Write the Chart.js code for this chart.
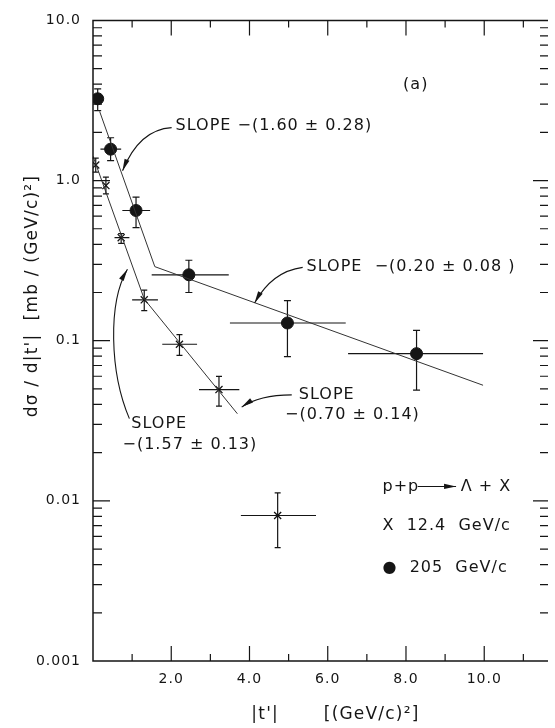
<!DOCTYPE html>
<html>
<head>
<meta charset="utf-8">
<script src="https://cdn.jsdelivr.net/npm/chart.js@4.4.1/dist/chart.umd.min.js"></script>
<style>
  html, body { margin: 0; padding: 0; background: #fff; }
  canvas { display: block; }
</style>
</head>
<body>
<canvas id="chart" width="555" height="728"></canvas>
<script>
// 205 GeV/c points (filled circles)
const t205 = [0.12, 0.45, 1.10, 2.45, 4.97, 8.27];
const y205 = [3.24, 1.57, 0.65, 0.258, 0.129, 0.083];
const y205Hi = [3.74, 1.85, 0.787, 0.318, 0.178, 0.116];
const y205Lo = [2.73, 1.33, 0.508, 0.200, 0.0796, 0.0492];
const t205Lo = [0.12, 0.19, 0.75, 1.50, 3.50, 6.52];
const t205Hi = [0.12, 0.72, 1.46, 3.47, 6.46, 9.97];

// 12.4 GeV/c points (crosses)
const t124 = [0.07, 0.33, 0.72, 1.31, 2.21, 3.22, 4.72];
const y124 = [1.25, 0.93, 0.44, 0.18, 0.095, 0.0495, 0.0081];
const y124Hi = [1.38, 1.05, 0.466, 0.207, 0.109, 0.0598, 0.0112];
const y124Lo = [1.13, 0.825, 0.405, 0.154, 0.081, 0.039, 0.0051];
const t124Lo = [0.07, 0.33, 0.55, 1.00, 1.77, 2.71, 3.78];
const t124Hi = [0.07, 0.33, 0.93, 1.66, 2.66, 3.74, 5.70];

// fitted slopes (break points)
const fit205T = [0.17, 1.58, 9.97];
const fit205Y = [2.70, 0.290, 0.0527];
const fit124T = [0.0, 1.31, 3.69];
const fit124Y = [1.42, 0.182, 0.035];

// tick labels
const xTicks = [2, 4, 6, 8, 10];
const yTicks = [0.001, 0.01, 0.1, 1, 10];
const yTickLabels = ['0.001', '0.01', '0.1', '1.0', '10.0'];

const FONT = "'DejaVu Sans', sans-serif";
const INK = '#151515';

const pts = (xs, ys) => xs.map((x, i) => ({ x: x, y: ys[i] }));

// annotation text in data units
const notes = [
  { text: 'SLOPE −(1.60 ± 0.28)', t: 2.11, v: 2.21 },
  { text: 'SLOPE  −(0.20 ± 0.08 )', t: 5.46, v: 0.291 },
  { text: 'SLOPE', t: 5.26, v: 0.0457 },
  { text: '−(0.70 ± 0.14)', t: 4.91, v: 0.0343 },
  { text: 'SLOPE', t: 0.98, v: 0.0302 },
  { text: '−(1.57 ± 0.13)', t: 0.755, v: 0.0224 },
  { text: '(a)', t: 8.25, v: 3.96, align: 'center' },
  { text: 'p+p', t: 7.40, v: 0.0123 },
  { text: 'Λ + X', t: 9.40, v: 0.0123 },
  { text: 'X  12.4  GeV/c', t: 7.40, v: 0.00695 },
  { text: '●  205  GeV/c', t: 7.40, v: 0.00382 }
];
// curved pointer arrows (start, controls..., tip) in data units
const arrows = [
  [[2.01, 2.14], [1.18, 2.08], [0.755, 1.15]],
  [[5.36, 0.287], [4.58, 0.271], [4.13, 0.172]],
  [[5.08, 0.0459], [4.25, 0.0458], [3.80, 0.0385]],
  [[0.93, 0.0326], [0.428, 0.0634], [0.377, 0.172], [0.88, 0.279]],
  [[8.30, 0.0123], [9.28, 0.0123]]
];

function arrowHead(ctx, x, y, dx, dy, len, w) {
  const d = Math.hypot(dx, dy);
  const ux = dx / d, uy = dy / d;
  ctx.beginPath();
  ctx.moveTo(x, y);
  ctx.lineTo(x - ux * len - uy * w, y - uy * len + ux * w);
  ctx.lineTo(x - ux * len + uy * w, y - uy * len - ux * w);
  ctx.closePath();
  ctx.fill();
}

const errorBars = {
  id: 'errorBars',
  beforeDatasetsDraw(chart) {
    const { ctx, scales: { x, y } } = chart;
    ctx.save();
    ctx.strokeStyle = INK;
    ctx.lineWidth = 1.2;
    const draw = (ts, ys, tLo, tHi, yLo, yHi, cap) => {
      ts.forEach((t, i) => {
        const px = x.getPixelForValue(t), py = y.getPixelForValue(ys[i]);
        const top = y.getPixelForValue(yHi[i]), bot = y.getPixelForValue(yLo[i]);
        const l = x.getPixelForValue(tLo[i]), r = x.getPixelForValue(tHi[i]);
        ctx.beginPath();
        ctx.moveTo(px, top); ctx.lineTo(px, bot);
        ctx.moveTo(px - cap, top); ctx.lineTo(px + cap, top);
        ctx.moveTo(px - cap, bot); ctx.lineTo(px + cap, bot);
        if (r > l) { ctx.moveTo(l, py); ctx.lineTo(r, py); }
        ctx.stroke();
      });
    };
    draw(t205, y205, t205Lo, t205Hi, y205Lo, y205Hi, 3.5);
    draw(t124, y124, t124Lo, t124Hi, y124Lo, y124Hi, 3);
    ctx.restore();
  }
};

const frame = {
  id: 'frame',
  beforeDraw(chart) {
    chart.ctx.letterSpacing = '1px';
  },
  afterDraw(chart) {
    const { ctx, chartArea: a, scales: { x, y } } = chart;
    ctx.save();
    ctx.strokeStyle = INK;
    ctx.lineWidth = 1.5;
    ctx.beginPath();
    ctx.moveTo(a.right, a.top); ctx.lineTo(a.left, a.top);
    ctx.lineTo(a.left, a.bottom); ctx.lineTo(a.right, a.bottom);
    ctx.stroke();
    ctx.lineWidth = 1.2;
    ctx.beginPath();
    for (let t = 1; t <= 11; t++) {
      const px = x.getPixelForValue(t);
      const len = t % 2 === 0 ? 15 : 7;
      ctx.moveTo(px, a.bottom); ctx.lineTo(px, a.bottom - len);
      ctx.moveTo(px, a.top); ctx.lineTo(px, a.top + len);
    }
    for (let e = -3; e <= 0; e++) {
      for (let k = 1; k <= 9; k++) {
        const v = k * Math.pow(10, e);
        if (k === 1 && e === -3) continue;
        const py = y.getPixelForValue(v);
        ctx.moveTo(a.left, py); ctx.lineTo(a.left + (k === 1 ? 17 : 9), py);
        ctx.moveTo(a.right, py); ctx.lineTo(a.right - (k === 1 ? 15 : 8), py);
      }
    }
    ctx.stroke();

    // annotations
    ctx.fillStyle = INK;
    ctx.textBaseline = 'middle';
    ctx.font = '16px ' + FONT;
    ctx.letterSpacing = '1px';
    notes.forEach(n => {
      ctx.textAlign = n.align || 'left';
      ctx.fillText(n.text, x.getPixelForValue(n.t), y.getPixelForValue(n.v));
    });

    ctx.lineWidth = 1.1;
    arrows.forEach(p => {
      const q = p.map(([t, v]) => [x.getPixelForValue(t), y.getPixelForValue(v)]);
      ctx.beginPath();
      ctx.moveTo(q[0][0], q[0][1]);
      if (q.length === 2) ctx.lineTo(q[1][0], q[1][1]);
      else if (q.length === 3) ctx.quadraticCurveTo(q[1][0], q[1][1], q[2][0], q[2][1]);
      else ctx.bezierCurveTo(q[1][0], q[1][1], q[2][0], q[2][1], q[3][0], q[3][1]);
      ctx.stroke();
      const end = q[q.length - 1], prev = q[q.length - 2];
      arrowHead(ctx, end[0], end[1], end[0] - prev[0], end[1] - prev[1], 12, 2.6);
    });

    // axis titles
    ctx.font = '17px ' + FONT;
    ctx.letterSpacing = '1.2px';
    ctx.textAlign = 'center';
    const ty = a.bottom + 54;
    ctx.fillText("|t'|", x.getPixelForValue(4.4), ty);
    ctx.textAlign = 'left';
    ctx.fillText('[(GeV/c)²]', x.getPixelForValue(5.9), ty);

    ctx.save();
    ctx.translate(a.left - 60, y.getPixelForValue(0.19));
    ctx.rotate(-Math.PI / 2);
    ctx.textAlign = 'center';
    ctx.fillText("dσ / d|t'|  [mb / (GeV/c)²]", 0, 0);
    ctx.restore();
    ctx.restore();
  }
};

new Chart(document.getElementById('chart').getContext('2d'), {
  type: 'scatter',
  data: {
    datasets: [
      { type: 'line', data: pts(fit205T, fit205Y), borderColor: '#333', borderWidth: 1, pointRadius: 0, fill: false, tension: 0 },
      { type: 'line', data: pts(fit124T, fit124Y), borderColor: '#333', borderWidth: 1, pointRadius: 0, fill: false, tension: 0 },
      { label: '205 GeV/c', data: pts(t205, y205), pointStyle: 'circle', pointRadius: 6, backgroundColor: INK, borderColor: INK },
      { label: '12.4 GeV/c', data: pts(t124, y124), pointStyle: 'crossRot', pointRadius: 5, borderColor: INK, borderWidth: 1.3 }
    ]
  },
  options: {
    responsive: false,
    animation: false,
    layout: { padding: { top: 15, right: 0, left: 0, bottom: 0 } },
    plugins: { legend: { display: false }, tooltip: { enabled: false } },
    scales: {
      x: {
        type: 'linear', min: 0, max: 11.63,
        grid: { display: false, drawTicks: false },
        border: { display: false },
        ticks: { padding: 10, color: INK, font: { family: FONT, size: 14 }, callback: v => v.toFixed(1) },
        afterBuildTicks: s => { s.ticks = xTicks.map(v => ({ value: v })); },
        afterFit: s => { s.height = 67; }
      },
      y: {
        type: 'logarithmic', min: 0.001, max: 10,
        grid: { display: false, drawTicks: false },
        border: { display: false },
        ticks: { padding: 12, color: INK, font: { family: FONT, size: 14 },
          callback: v => { const i = yTicks.indexOf(v); return i < 0 ? '' : yTickLabels[i]; } },
        afterBuildTicks: s => { s.ticks = yTicks.map(v => ({ value: v })); },
        afterFit: s => { s.width = 93; }
      }
    }
  },
  plugins: [errorBars, frame]
});
</script>
</body>
</html>
